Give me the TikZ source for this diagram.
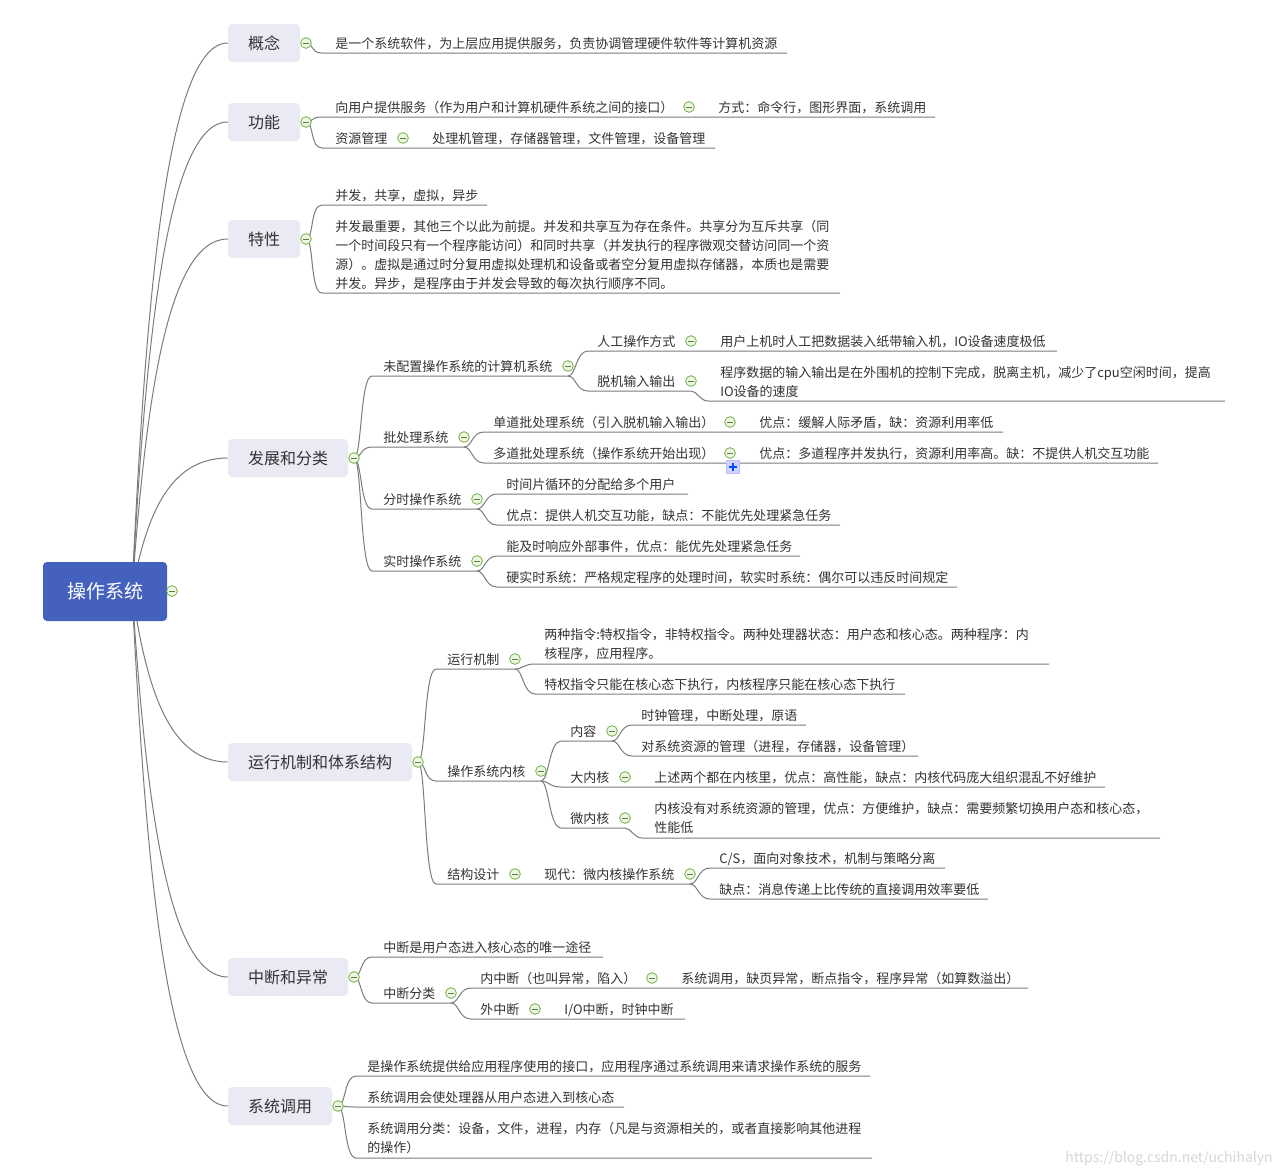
\documentclass[tikz,border=0pt]{standalone}
\usepackage{fontspec}
\setmainfont{Noto Sans CJK SC}
\definecolor{lnc}{HTML}{7C7C7C}
\definecolor{txc}{HTML}{333333}
\definecolor{tpf}{HTML}{E9EAF4}
\definecolor{rtb}{HTML}{4461BE}
\definecolor{mkg}{HTML}{73B043}
\definecolor{mkf}{HTML}{EEF7E4}
\definecolor{mkm}{HTML}{5C7F45}
\definecolor{wmc}{HTML}{D6D6D6}
\pgfdeclarelayer{bg}
\pgfsetlayers{bg,main}
\newcommand\lf[4]{\node[leaf] (#1) at (#2,#3+5) {#4};}
\newcommand\cn[3]{\draw[conn] #1 .. controls +(8,0) and +(-12,0) .. #2 -- #3;}
\begin{document}
\begin{tikzpicture}[x=0.75pt,y=-0.75pt,
  conn/.style={draw=lnc, line width=0.75pt},
  leaf/.style={anchor=base west, inner sep=0pt, font=\fontsize{9.75}{12}\selectfont, text=txc},
  mk/.style={circle, draw=mkg, fill=mkf, line width=0.6pt, minimum size=8pt, inner sep=0pt,
    path picture={\draw[mkm, line width=0.7pt] ([xshift=-2.2pt]path picture bounding box.center) -- ([xshift=2.2pt]path picture bounding box.center);}},
  topic/.style={rounded corners=3pt, fill=tpf, font=\fontsize{12}{14}\selectfont, text=txc, minimum height=28.5pt, inner sep=0pt},
  rootn/.style={rounded corners=3pt, fill=rtb, text=white, font=\fontsize{14.25}{16}\selectfont, minimum width=93pt, minimum height=44.25pt, inner sep=0pt},
  plusbox/.style={rectangle, fill=blue!18!white, draw=blue!25!white, minimum size=9.5pt, inner sep=0pt,
    path picture={\draw[blue!70!cyan, line width=1.3pt] ([xshift=-3pt]path picture bounding box.center) -- ([xshift=3pt]path picture bounding box.center) ([yshift=-3pt]path picture bounding box.center) -- ([yshift=3pt]path picture bounding box.center);}}
]
\useasboundingbox (0,0) rectangle (1282,1174);

% root and topics
\node[rootn] (root) at (105,591.5) {操作系统};
\node[topic, minimum width=54pt] (T1) at (264,43) {概念};
\node[topic, minimum width=54pt] (T2) at (264,122) {功能};
\node[topic, minimum width=54pt] (T3) at (264,239) {特性};
\node[topic, minimum width=90pt] (T4) at (288,458) {发展和分类};
\node[topic, minimum width=138pt] (T5) at (320,762) {运行机制和体系结构};
\node[topic, minimum width=90pt] (T6) at (288,977) {中断和异常};
\node[topic, minimum width=78pt] (T7) at (280,1106) {系统调用};

% markers
\node[mk] (M0) at (172,591) {};
\node[mk] (M1) at (306,43) {};
\node[mk] (M2) at (306,122) {};
\node[mk] (M3) at (306,239) {};
\node[mk] (M4) at (354,458) {};
\node[mk] (M5) at (418,762) {};
\node[mk] (M6) at (354,977) {};
\node[mk] (M7) at (338,1106) {};
\node[mk] (M21) at (689,107) {};
\node[mk] (M22) at (403,138) {};
\node[mk] (M41) at (568,366) {};
\node[mk] (M411) at (691,341) {};
\node[mk] (M412) at (691,381) {};
\node[mk] (M42) at (464,437) {};
\node[mk] (M421) at (730,422) {};
\node[mk] (M422) at (730,453) {};
\node[mk] (M43) at (477,499) {};
\node[mk] (M44) at (477,561) {};
\node[mk] (M51) at (515,659) {};
\node[mk] (M52) at (541,771) {};
\node[mk] (M521) at (612,731) {};
\node[mk] (M522) at (625,777) {};
\node[mk] (M523) at (625,818) {};
\node[mk] (M53) at (515,874) {};
\node[mk] (M531) at (690,874) {};
\node[mk] (M62) at (451,993) {};
\node[mk] (M621) at (652,978) {};
\node[mk] (M622) at (535,1009) {};
\node[plusbox] (P1) at (733,467) {};

% leaves
\lf{L1}{335}{43}{是一个系统软件，为上层应用提供服务，负责协调管理硬件软件等计算机资源}
\lf{L21}{335}{107}{向用户提供服务（作为用户和计算机硬件系统之间的接口）}
\lf{L211}{718}{107}{方式：命令行，图形界面，系统调用}
\lf{L22}{335}{138}{资源管理}
\lf{L221}{432}{138}{处理机管理，存储器管理，文件管理，设备管理}
\lf{L31}{335}{195}{并发，共享，虚拟，异步}
\lf{L32a}{335}{226}{并发最重要，其他三个以此为前提。并发和共享互为存在条件。共享分为互斥共享（同}
\lf{L32b}{335}{245}{一个时间段只有一个程序能访问）和同时共享（并发执行的程序微观交替访问同一个资}
\lf{L32c}{335}{264}{源）。虚拟是通过时分复用虚拟处理机和设备或者空分复用虚拟存储器，本质也是需要}
\lf{L32d}{335}{283}{并发。异步，是程序由于并发会导致的每次执行顺序不同。}
\lf{L41}{383}{366}{未配置操作系统的计算机系统}
\lf{L411}{597}{341}{人工操作方式}
\lf{L4111}{720}{341}{用户上机时人工把数据装入纸带输入机，IO设备速度极低}
\lf{L412}{597}{381}{脱机输入输出}
\lf{L4121a}{720}{372}{程序数据的输入输出是在外围机的控制下完成，脱离主机，减少了cpu空闲时间，提高}
\lf{L4121b}{720}{391}{IO设备的速度}
\lf{L42}{383}{437}{批处理系统}
\lf{L421}{493}{422}{单道批处理系统（引入脱机输入输出）}
\lf{L4211}{759}{422}{优点：缓解人际矛盾，缺：资源利用率低}
\lf{L422}{493}{453}{多道批处理系统（操作系统开始出现）}
\lf{L4221}{759}{453}{优点：多道程序并发执行，资源利用率高。缺：不提供人机交互功能}
\lf{L43}{383}{499}{分时操作系统}
\lf{L431}{506}{484}{时间片循环的分配给多个用户}
\lf{L432}{506}{515}{优点：提供人机交互功能，缺点：不能优先处理紧急任务}
\lf{L44}{383}{561}{实时操作系统}
\lf{L441}{506}{546}{能及时响应外部事件，优点：能优先处理紧急任务}
\lf{L442}{506}{577}{硬实时系统：严格规定程序的处理时间，软实时系统：偶尔可以违反时间规定}
\lf{L51}{447}{659}{运行机制}
\lf{L511a}{544}{634}{两种指令:特权指令，非特权指令。两种处理器状态：用户态和核心态。两种程序：内}
\lf{L511b}{544}{653}{核程序，应用程序。}
\lf{L512}{544}{684}{特权指令只能在核心态下执行，内核程序只能在核心态下执行}
\lf{L52}{447}{771}{操作系统内核}
\lf{L521}{570}{731}{内容}
\lf{L5211}{641}{715}{时钟管理，中断处理，原语}
\lf{L5212}{641}{746}{对系统资源的管理（进程，存储器，设备管理）}
\lf{L522}{570}{777}{大内核}
\lf{L5221}{654}{777}{上述两个都在内核里，优点：高性能，缺点：内核代码庞大组织混乱不好维护}
\lf{L523}{570}{818}{微内核}
\lf{L5231a}{654}{808}{内核没有对系统资源的管理，优点：方便维护，缺点：需要频繁切换用户态和核心态，}
\lf{L5231b}{654}{827}{性能低}
\lf{L53}{447}{874}{结构设计}
\lf{L531}{544}{874}{现代：微内核操作系统}
\lf{L5311}{719}{858}{C/S，面向对象技术，机制与策略分离}
\lf{L5312}{719}{889}{缺点：消息传递上比传统的直接调用效率要低}
\lf{L61}{383}{947}{中断是用户态进入核心态的唯一途径}
\lf{L62}{383}{993}{中断分类}
\lf{L621}{480}{978}{内中断（也叫异常，陷入）}
\lf{L6211}{681}{978}{系统调用，缺页异常，断点指令，程序异常（如算数溢出）}
\lf{L622}{480}{1009}{外中断}
\lf{L6221}{564}{1009}{I/O中断，时钟中断}
\lf{L71}{367}{1066}{是操作系统提供给应用程序使用的接口，应用程序通过系统调用来请求操作系统的服务}
\lf{L72}{367}{1097}{系统调用会使处理器从用户态进入到核心态}
\lf{L73a}{367}{1128}{系统调用分类：设备，文件，进程，内存（凡是与资源相关的，或者直接影响其他进程}
\lf{L73b}{367}{1147}{的操作）}

\node[anchor=base east, inner sep=0pt, text=wmc, font=\fontsize{10.5}{12}\selectfont] (wm) at (1273,1162) {https://blog.csdn.net/uchihalyn};

\begin{pgfonlayer}{bg}
\fill[white] (0,0) rectangle (1282,1174);
% root to topics
\foreach \t/\y in {T1/43,T2/122,T3/239,T4/458,T5/762,T6/977,T7/1106}
  \draw[conn] (132,591) .. controls (145,{(591+\y)/2}) and (165,\y) .. (\t.west);
% 概念
\cn{(M1.center)}{(322,53)}{(787,53)}
% 功能
\cn{(M2.center)}{(322,117)}{(935,117)}
\cn{(M2.center)}{(322,148)}{(715,148)}
% 特性
\cn{(M3.center)}{(322,205)}{(487,205)}
\cn{(M3.center)}{(322,293)}{(840,293)}
% 发展和分类
\cn{(M4.center)}{(372,376)}{(568,376)}
\cn{(568,376)}{(588,351)}{(1057,351)}
\cn{(568,376)}{(588,391)}{(691,391)}
\draw[conn] (691,391) .. controls +(6,0) and +(-8,0) .. (708,401) -- (1225,401);
\cn{(M4.center)}{(372,447)}{(464,447)}
\cn{(464,447)}{(484,432)}{(1003,432)}
\cn{(464,447)}{(484,463)}{(1158,463)}
\cn{(M4.center)}{(372,509)}{(477,509)}
\cn{(477,509)}{(497,494)}{(688,494)}
\cn{(477,509)}{(497,525)}{(840,525)}
\cn{(M4.center)}{(372,571)}{(477,571)}
\cn{(477,571)}{(497,556)}{(800,556)}
\cn{(477,571)}{(497,587)}{(957,587)}
% 运行机制和体系结构
\cn{(M5.center)}{(436,669)}{(515,669)}
\cn{(515,669)}{(535,664)}{(1049,664)}
\cn{(515,669)}{(535,694)}{(905,694)}
\cn{(M5.center)}{(436,781)}{(541,781)}
\cn{(541,781)}{(561,741)}{(612,741)}
\cn{(612,741)}{(632,725)}{(806,725)}
\cn{(612,741)}{(632,756)}{(918,756)}
\cn{(541,781)}{(561,787)}{(1105,787)}
\cn{(541,781)}{(561,828)}{(625,828)}
\draw[conn] (625,828) .. controls +(6,0) and +(-8,0) .. (642,838) -- (1160,838);
\cn{(M5.center)}{(436,884)}{(690,884)}
\cn{(690,884)}{(710,868)}{(945,868)}
\cn{(690,884)}{(710,899)}{(988,899)}
% 中断和异常
\cn{(M6.center)}{(372,957)}{(603,957)}
\cn{(M6.center)}{(372,1003)}{(451,1003)}
\cn{(451,1003)}{(471,988)}{(1028,988)}
\cn{(451,1003)}{(471,1019)}{(685,1019)}
% 系统调用
\cn{(M7.center)}{(356,1076)}{(870,1076)}
\cn{(M7.center)}{(356,1107)}{(624,1107)}
\cn{(M7.center)}{(356,1158)}{(872,1158)}
\end{pgfonlayer}
\end{tikzpicture}
\end{document}
